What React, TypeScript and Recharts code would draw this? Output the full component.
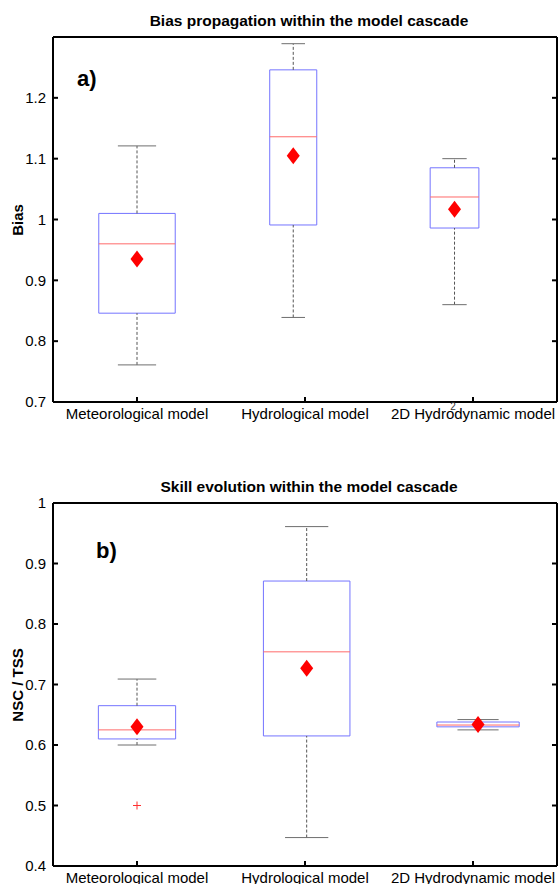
import {
  ComposedChart,
  XAxis,
  YAxis,
  Scatter,
  ReferenceArea,
  ReferenceLine,
} from "recharts";

const CATEGORIES = ["Meteorological model", "Hydrological model", "2D Hydrodynamic model"];
const CAT_TICKS = [1, 2, 3];

// a) bias: box stats per model
const BIAS_POS = [1, 1.93, 2.89];
const BIAS_LOW = [0.761, 0.839, 0.86];
const BIAS_Q1 = [0.846, 0.991, 0.986];
const BIAS_MED = [0.96, 1.136, 1.037];
const BIAS_Q3 = [1.01, 1.246, 1.085];
const BIAS_HIGH = [1.121, 1.289, 1.1];
const BIAS_MEAN = [0.935, 1.105, 1.017];
const BIAS_TICKS = [0.7, 0.8, 0.9, 1, 1.1, 1.2];

// b) skill (NSC / TSS)
const SKILL_POS = [1, 2.01, 3.03];
const SKILL_LOW = [0.6, 0.447, 0.625];
const SKILL_Q1 = [0.61, 0.615, 0.63];
const SKILL_MED = [0.625, 0.754, 0.633];
const SKILL_Q3 = [0.665, 0.871, 0.638];
const SKILL_HIGH = [0.709, 0.961, 0.642];
const SKILL_MEAN = [0.63, 0.727, 0.634];
const SKILL_OUT_POS = [1];
const SKILL_OUT_VAL = [0.5];
const SKILL_TICKS = [0.4, 0.5, 0.6, 0.7, 0.8, 0.9, 1];

// box widths in category units (style)
const BIAS_BOXW = [0.455, 0.28, 0.29];
const SKILL_BOXW = [0.46, 0.515, 0.49];

const FONT = "'Liberation Sans', Arial, Helvetica, sans-serif";
const AXIS = { stroke: "#000", strokeWidth: 2 };
const TICKLINE = { stroke: "#000", strokeWidth: 2 };
const TICK_TEXT = { fontSize: 15, fill: "#000", fontFamily: FONT };
const BLUE = "#7474ff";
const RED = "#ff6a6a";

function Diamond(p: any) {
  const { cx, cy } = p;
  if (cx == null || cy == null) return <g />;
  return (
    <polygon
      points={`${cx},${cy - 8.5} ${cx + 6.5},${cy} ${cx},${cy + 8.5} ${cx - 6.5},${cy}`}
      fill="#ff0000"
    />
  );
}

function Plus(p: any) {
  const { cx, cy } = p;
  if (cx == null || cy == null) return <g />;
  return (
    <g stroke="#ff3030" strokeWidth={1}>
      <line x1={cx - 4} y1={cy} x2={cx + 4} y2={cy} />
      <line x1={cx} y1={cy - 4} x2={cx} y2={cy + 4} />
    </g>
  );
}

function BoxChart(props: any) {
  const { pos, boxw, low, q1, med, q3, high, mean, outPos, outVal, yDomain, yTicks, top, bottomH, height } = props;
  const ids = { xAxisId: "b", yAxisId: "l" };
  const means = mean.map((m: number, i: number) => ({ x: pos[i], y: m }));
  const outs = (outPos || []).map((p: number, i: number) => ({ x: p, y: outVal[i] }));

  return (
    <ComposedChart width={558} height={height} margin={{ top: top - 1, right: 0, bottom: 0, left: 0 }}>
      <XAxis
        xAxisId="b"
        type="number"
        dataKey="x"
        domain={[0.5, 3.5]}
        allowDataOverflow
        ticks={CAT_TICKS}
        interval={0}
        tickFormatter={(v: number) => CATEGORIES[Math.round(v) - 1]}
        height={bottomH}
        axisLine={AXIS}
        tickLine={TICKLINE}
        tickSize={-5}
        tickMargin={11}
        tick={TICK_TEXT}
      />
      <XAxis
        xAxisId="t"
        orientation="top"
        type="number"
        domain={[0.5, 3.5]}
        allowDataOverflow
        ticks={CAT_TICKS}
        interval={0}
        tickFormatter={() => ""}
        height={1}
        axisLine={AXIS}
        tickLine={TICKLINE}
        tickSize={-5}
      />
      <YAxis
        yAxisId="l"
        type="number"
        dataKey="y"
        domain={yDomain}
        allowDataOverflow
        ticks={yTicks}
        interval={0}
        width={53}
        axisLine={AXIS}
        tickLine={TICKLINE}
        tickSize={-5}
        tickMargin={12}
        tick={TICK_TEXT}
      />
      <YAxis
        yAxisId="r"
        orientation="right"
        type="number"
        domain={yDomain}
        allowDataOverflow
        ticks={yTicks}
        interval={0}
        width={1}
        tickFormatter={() => ""}
        axisLine={AXIS}
        tickLine={TICKLINE}
        tickSize={-5}
      />

      {pos.map((p: number, i: number) => (
        <ReferenceLine
          key={`wu${i}`}
          {...ids}
          segment={[{ x: p, y: q3[i] }, { x: p, y: high[i] }]}
          stroke="#555"
          strokeDasharray="3 2"
        />
      ))}
      {pos.map((p: number, i: number) => (
        <ReferenceLine
          key={`wl${i}`}
          {...ids}
          segment={[{ x: p, y: low[i] }, { x: p, y: q1[i] }]}
          stroke="#555"
          strokeDasharray="3 2"
        />
      ))}
      {pos.map((p: number, i: number) => (
        <ReferenceLine
          key={`cu${i}`}
          {...ids}
          segment={[{ x: p - boxw[i] / 4, y: high[i] }, { x: p + boxw[i] / 4, y: high[i] }]}
          stroke="#6e6e6e"
        />
      ))}
      {pos.map((p: number, i: number) => (
        <ReferenceLine
          key={`cl${i}`}
          {...ids}
          segment={[{ x: p - boxw[i] / 4, y: low[i] }, { x: p + boxw[i] / 4, y: low[i] }]}
          stroke="#6e6e6e"
        />
      ))}
      {pos.map((p: number, i: number) => (
        <ReferenceArea
          key={`bx${i}`}
          {...ids}
          x1={p - boxw[i] / 2}
          x2={p + boxw[i] / 2}
          y1={q1[i]}
          y2={q3[i]}
          fill="none"
          fillOpacity={0}
          stroke={BLUE}
          strokeWidth={1}
          strokeOpacity={1}
        />
      ))}
      {pos.map((p: number, i: number) => (
        <ReferenceLine
          key={`md${i}`}
          {...ids}
          segment={[{ x: p - boxw[i] / 2, y: med[i] }, { x: p + boxw[i] / 2, y: med[i] }]}
          stroke={RED}
        />
      ))}
      <Scatter {...ids} data={outs} dataKey="y" shape={Plus} isAnimationActive={false} />
      <Scatter {...ids} data={means} dataKey="y" shape={Diamond} isAnimationActive={false} />
    </ComposedChart>
  );
}

export default function App() {
  return (
    <div style={{ position: "relative", width: 558, height: 884, background: "#fff", overflow: "hidden" }}>
      <style>{"html,body{margin:0;padding:0;overflow:hidden;background:#fff}"}</style>
      <div style={{ position: "absolute", left: 0, top: 0 }}>
        <BoxChart
          pos={BIAS_POS}
          boxw={BIAS_BOXW}
          low={BIAS_LOW}
          q1={BIAS_Q1}
          med={BIAS_MED}
          q3={BIAS_Q3}
          high={BIAS_HIGH}
          mean={BIAS_MEAN}
          yDomain={[0.7, 1.3]}
          yTicks={BIAS_TICKS}
          top={37}
          bottomH={40}
          height={442}
        />
      </div>
      <div style={{ position: "absolute", left: 0, top: 442 }}>
        <BoxChart
          pos={SKILL_POS}
          boxw={SKILL_BOXW}
          low={SKILL_LOW}
          q1={SKILL_Q1}
          med={SKILL_MED}
          q3={SKILL_Q3}
          high={SKILL_HIGH}
          mean={SKILL_MEAN}
          outPos={SKILL_OUT_POS}
          outVal={SKILL_OUT_VAL}
          yDomain={[0.4, 1]}
          yTicks={SKILL_TICKS}
          top={61}
          bottomH={18}
          height={442}
        />
      </div>
      <svg
        width={558}
        height={884}
        style={{ position: "absolute", left: 0, top: 0, pointerEvents: "none" }}
        fontFamily={FONT}
      >
        <text x={309} y={26} textAnchor="middle" fontSize={15.5} fontWeight="bold">
          Bias propagation within the model cascade
        </text>
        <text x={77} y={86} fontSize={22} fontWeight="bold">a)</text>
        <text transform="translate(23,220) rotate(-90)" textAnchor="middle" fontSize={15} fontWeight="bold">
          Bias
        </text>
        <text x={453} y={410} textAnchor="middle" fontSize={10} fill="#333">2</text>

        <text x={309} y={492} textAnchor="middle" fontSize={15.5} fontWeight="bold">
          Skill evolution within the model cascade
        </text>
        <text x={96} y={558} fontSize={22} fontWeight="bold">b)</text>
        <text transform="translate(23,685) rotate(-90)" textAnchor="middle" fontSize={15} fontWeight="bold">
          NSC / TSS
        </text>
      </svg>
    </div>
  );
}
